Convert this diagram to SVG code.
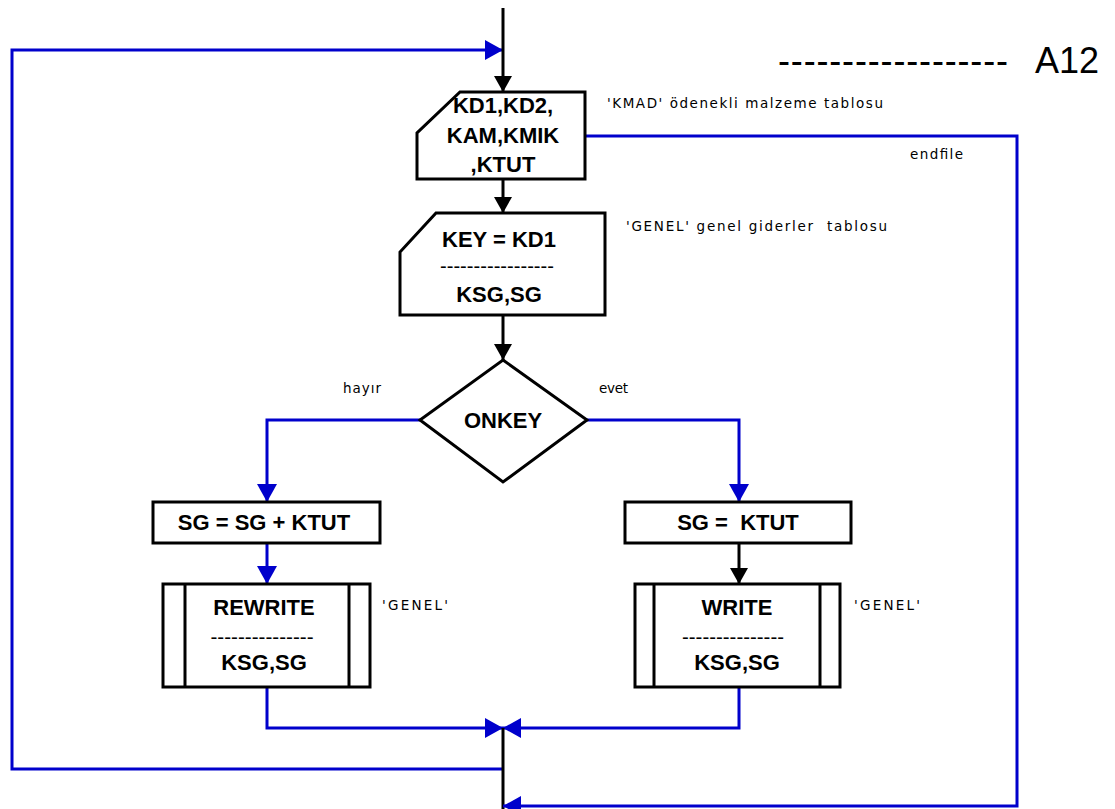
<svg xmlns="http://www.w3.org/2000/svg" width="1115" height="809" viewBox="0 0 1115 809">
<style>
.box{fill:#fff;stroke:#000;stroke-width:3}
.in{fill:none;stroke:#000;stroke-width:3}
.bl{fill:none;stroke:#0000cc;stroke-width:3}
.bk{fill:none;stroke:#000;stroke-width:3}
.t{font-family:"Liberation Sans",Arial,sans-serif;font-weight:bold;font-size:22px;fill:#000;text-anchor:middle}
.d{font-family:"Liberation Sans",Arial,sans-serif;font-size:20px;fill:#000;text-anchor:middle}
.s{font-family:"DejaVu Sans",Verdana,sans-serif;font-size:13.5px;fill:#000;white-space:pre}
</style>
<defs>
<marker id="ab" markerUnits="userSpaceOnUse" markerWidth="18" markerHeight="20" refX="18" refY="10" orient="auto"><path d="M0,0 L18,10 L0,20 z" fill="#0000cc"/></marker>
<marker id="ak" markerUnits="userSpaceOnUse" markerWidth="16" markerHeight="18" refX="16" refY="9" orient="auto"><path d="M0,0 L16,9 L0,18 z" fill="#000"/></marker>
</defs>
<rect width="1115" height="809" fill="#fff"/>
<g id="connectors">
<path class="bl" d="M503,769 H12 V50 H503" marker-end="url(#ab)"/>
<path class="bk" d="M503,8 V92" marker-end="url(#ak)"/>
<path class="bk" d="M503,179 V213" marker-end="url(#ak)"/>
<path class="bk" d="M503,315 V360" marker-end="url(#ak)"/>
<path class="bl" d="M420,420 H267 V502" marker-end="url(#ab)"/>
<path class="bl" d="M587,420 H739 V502" marker-end="url(#ab)"/>
<path class="bl" d="M267,543 V584" marker-end="url(#ab)"/>
<path class="bk" d="M739,543 V584" marker-end="url(#ak)"/>
<path class="bl" d="M267,687 V728 H503" marker-end="url(#ab)"/>
<path class="bl" d="M739,687 V728 H503" marker-end="url(#ab)"/>
<path class="bk" d="M503,728 V809"/>
<path class="bl" d="M585,136 H1017 V806 H503" marker-end="url(#ab)"/>
</g>
<g id="read1">
<path class="box" d="M460,92 H585 V179 H417 V133 Z"/>
<text class="t" x="503" y="113">KD1,KD2,</text>
<text class="t" x="503" y="143">KAM,KMIK</text>
<text class="t" x="503" y="172">,KTUT</text>
</g>
<g id="read2">
<path class="box" d="M436,213 H605 V315 H400 V252 Z"/>
<text class="t" x="499" y="247">KEY = KD1</text>
<text class="d" x="497" y="273" textLength="114" lengthAdjust="spacingAndGlyphs">-----------------</text>
<text class="t" x="499" y="302">KSG,SG</text>
</g>
<g id="onkey">
<path class="box" d="M503,360 L587,420 L503,482 L420,420 Z"/>
<text class="t" x="503" y="428">ONKEY</text>
</g>
<g id="assign1">
<rect class="box" x="153" y="502" width="227" height="41"/>
<text class="t" x="264" y="530">SG = SG + KTUT</text>
</g>
<g id="assign2">
<rect class="box" x="625" y="502" width="226" height="41"/>
<text class="t" x="738" y="530" style="white-space:pre">SG =  KTUT</text>
</g>
<g id="rewrite">
<rect class="box" x="163" y="584" width="207" height="103"/>
<path class="in" d="M185,584 V687 M349,584 V687"/>
<text class="t" x="264" y="615">REWRITE</text>
<text class="d" x="262" y="644" textLength="103" lengthAdjust="spacingAndGlyphs">---------------</text>
<text class="t" x="264" y="670">KSG,SG</text>
</g>
<g id="write">
<rect class="box" x="635" y="584" width="205" height="103"/>
<path class="in" d="M654,584 V687 M820,584 V687"/>
<text class="t" x="737" y="615">WRITE</text>
<text class="d" x="733" y="644" textLength="102" lengthAdjust="spacingAndGlyphs">---------------</text>
<text class="t" x="737" y="670">KSG,SG</text>
</g>
<g id="labels">
<text class="s" x="607" y="108" textLength="276" lengthAdjust="spacing">'KMAD' ödenekli malzeme tablosu</text>
<text class="s" x="910" y="159" textLength="53" lengthAdjust="spacing">endfile</text>
<text class="s" x="626" y="231" textLength="261" lengthAdjust="spacing">'GENEL' genel giderler  tablosu</text>
<text class="s" x="343" y="393" textLength="38" lengthAdjust="spacing">hayır</text>
<text class="s" x="599" y="393" textLength="29" lengthAdjust="spacing">evet</text>
<text class="s" x="382" y="610" textLength="66" lengthAdjust="spacing">'GENEL'</text>
<text class="s" x="854" y="610" textLength="66" lengthAdjust="spacing">'GENEL'</text>
<text x="778" y="73" font-family="Liberation Sans, Arial, sans-serif" font-size="36" textLength="230" lengthAdjust="spacing">------------------</text>
<text x="1035" y="73" font-family="Liberation Sans, Arial, sans-serif" font-size="36">A12</text>
</g>
</svg>
